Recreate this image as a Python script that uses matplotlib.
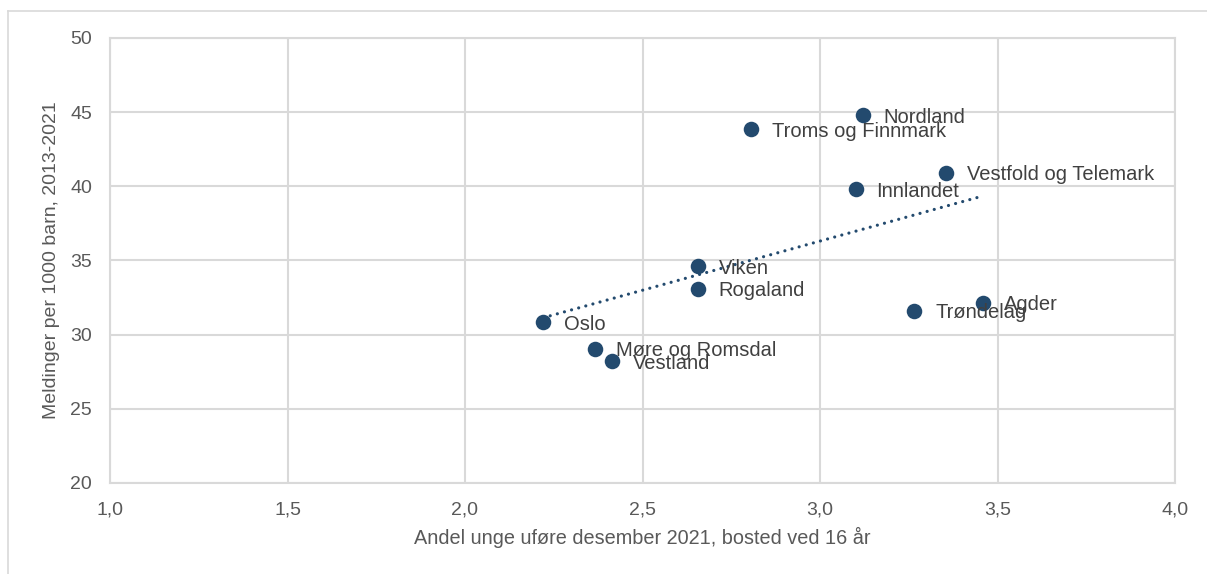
import numpy as np
import matplotlib
matplotlib.use("Agg")
import matplotlib.pyplot as plt
from matplotlib.lines import Line2D
from matplotlib.ticker import FuncFormatter

plt.rcParams['font.family'] = ['Liberation Sans', 'DejaVu Sans']

regions = ["Oslo", "Møre og Romsdal", "Vestland", "Viken", "Rogaland",
           "Troms og Finnmark", "Nordland", "Innlandet", "Vestfold og Telemark",
           "Trøndelag", "Agder"]
andel_unge_ufore = [2.22, 2.365, 2.413, 2.655, 2.655, 2.805, 3.12, 3.10, 3.356, 3.266, 3.46]
meldinger = [30.85, 29.05, 28.2, 34.6, 33.1, 43.85, 44.8, 39.8, 40.9, 31.6, 32.15]

x_ticks = [1.0, 1.5, 2.0, 2.5, 3.0, 3.5, 4.0]
y_ticks = [20, 25, 30, 35, 40, 45, 50]

text_color = "#595959"
grid_color = "#d9d9d9"
marker_color = "#234a6e"

W, H = 1207, 574
fig = plt.figure(figsize=(W / 100, H / 100), dpi=100)

# outer chart frame (left and top edges visible)
fig.add_artist(Line2D([8 / W, 8 / W], [0, 1 - 11 / H], transform=fig.transFigure,
                      color=grid_color, lw=1.2))
fig.add_artist(Line2D([8 / W, 1], [1 - 11 / H, 1 - 11 / H], transform=fig.transFigure,
                      color=grid_color, lw=1.2))

left, right, top, bottom = 110, 1175, 38, 483
ax = fig.add_axes([left / W, 1 - bottom / H, (right - left) / W, (bottom - top) / H])

ax.set_xlim(1.0, 4.0)
ax.set_ylim(20, 50)
ax.set_xticks(x_ticks)
ax.set_yticks(y_ticks)
ax.xaxis.set_major_formatter(FuncFormatter(lambda v, p: f"{v:.1f}".replace(".", ",")))
ax.yaxis.set_major_formatter(FuncFormatter(lambda v, p: f"{v:.0f}"))
ax.grid(True, color=grid_color, lw=1.5)
ax.set_axisbelow(True)
for s in ax.spines.values():
    s.set_color(grid_color)
    s.set_linewidth(1.5)
ax.tick_params(length=0, labelsize=14, colors=text_color)
ax.tick_params(axis='x', pad=13)
ax.tick_params(axis='y', pad=13)

# linear trend line across the observed range
coef = np.polyfit(andel_unge_ufore, meldinger, 1)
xt = np.array([min(andel_unge_ufore), max(andel_unge_ufore)])
ax.plot(xt, np.polyval(coef, xt), color=marker_color, lw=2.3,
        linestyle=(0, (0.01, 2.3)), dash_capstyle='round', zorder=2)

ax.scatter(andel_unge_ufore, meldinger, s=125, color=marker_color, zorder=3,
           linewidths=0)

for name, xv, yv in zip(regions, andel_unge_ufore, meldinger):
    ax.annotate(name, (xv, yv), xytext=(21, -2), textcoords='offset pixels',
                ha='left', va='center', fontsize=14.5, color="#404040", zorder=4)

ax.set_xlabel("Andel unge uføre desember 2021, bosted ved 16 år",
              fontsize=14.3, color=text_color)
ax.set_ylabel("Meldinger per 1000 barn, 2013-2021",
              fontsize=14, color=text_color)
ax.xaxis.set_label_coords(0.5, (bottom - 537) / (bottom - top))
ax.xaxis.label.set_va('center')
ax.yaxis.set_label_coords((51 - left) / (right - left), 0.5)
ax.yaxis.label.set_va('center')

fig.savefig("out.png", dpi=100)
